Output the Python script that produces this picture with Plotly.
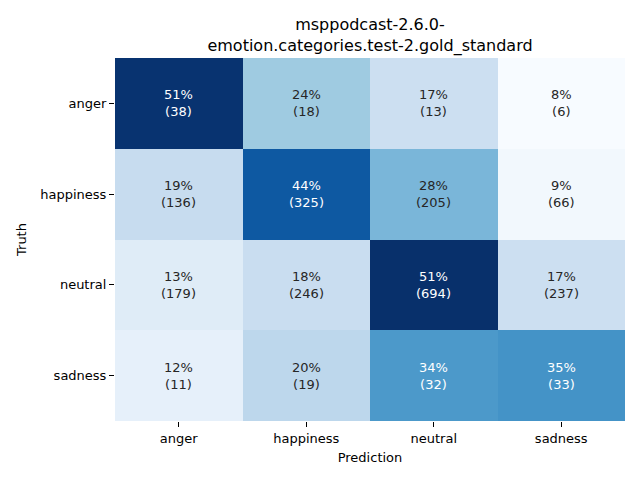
import plotly.graph_objects as go
import numpy as np

labels = ["anger", "happiness", "neutral", "sadness"]
counts = [
    [38, 18, 13, 6],
    [136, 325, 205, 66],
    [179, 246, 694, 237],
    [11, 19, 32, 33],
]

cnt = np.array(counts, dtype=float)
pct = cnt / cnt.sum(axis=1, keepdims=True) * 100

blues = ["#f7fbff", "#deebf7", "#c6dbef", "#9ecae1", "#6baed6",
         "#4292c6", "#2171b5", "#08519c", "#08306b"]
cs = [[i / 8, c] for i, c in enumerate(blues)]

fig = go.Figure(go.Heatmap(
    z=pct, x=labels, y=labels, colorscale=cs,
    zmin=pct.min(), zmax=pct.max(), showscale=False, xgap=0, ygap=0,
    hoverinfo="skip",
))

vmin, vmax = pct.min(), pct.max()
for i, r in enumerate(labels):
    for j, c in enumerate(labels):
        frac = (pct[i, j] - vmin) / (vmax - vmin)
        col = "white" if frac > 0.55 else "#262626"
        fig.add_annotation(x=c, y=r, xref="x", yref="y",
                           text=f"{pct[i, j]:.0f}%<br>({counts[i][j]})",
                           showarrow=False,
                           font=dict(family="DejaVu Sans", size=13, color=col))

W, H = 632, 472
fig.update_layout(
    width=W, height=H,
    margin=dict(l=107, r=15, t=50, b=59),
    paper_bgcolor="white", plot_bgcolor="white",
    font=dict(family="DejaVu Sans", size=13, color="black"),
    title=dict(text="msppodcast-2.6.0-<br>emotion.categories.test-2.gold_standard",
               x=362 / W, xanchor="center", y=1 - 22 / H, yanchor="top",
               font=dict(size=16), automargin=False),
    xaxis=dict(title=dict(text="Prediction", standoff=8, font=dict(size=13)),
               ticks="outside", automargin=False,
               ticklen=5, tickcolor="black", showgrid=False, zeroline=False),
    yaxis=dict(title=dict(text="Truth", standoff=10, font=dict(size=13)),
               ticks="outside", automargin=False,
               ticklen=5, tickcolor="black", autorange="reversed",
               showgrid=False, zeroline=False),
)

fig.write_html("out.html")
